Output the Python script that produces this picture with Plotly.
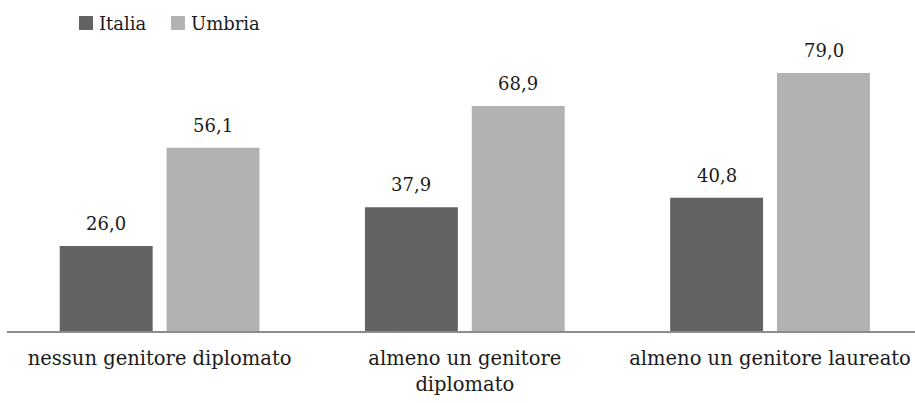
import plotly.graph_objects as go

categories = ["nessun genitore diplomato", "almeno un genitore<br>diplomato", "almeno un genitore laureato"]
series_names = ["Italia", "Umbria"]
italia = [26.0, 37.9, 40.8]
umbria = [56.1, 68.9, 79.0]

colors = {"Italia": "#636363", "Umbria": "#b2b2b2"}
font_family = "DejaVu Serif"
text_color = "#1a1a1a"

def fmt(v):
    return f"{v:.1f}".replace(".", ",")

fig = go.Figure()
for name, vals in zip(series_names, [italia, umbria]):
    fig.add_trace(go.Bar(
        x=categories, y=vals, name=name,
        marker=dict(color=colors[name], line=dict(width=0)),
        hoverinfo="skip", showlegend=False,
    ))

annotations = []
for offset, vals in zip([-53.5, 53.5], [italia, umbria]):
    for c, v in zip(categories, vals):
        annotations.append(dict(
            x=c, y=v, xref="x", yref="y", text=fmt(v), showarrow=False,
            xshift=offset, yanchor="bottom", yshift=10,
            font=dict(family=font_family, size=18, color=text_color),
        ))

# manual legend (positions in paper coords)
shapes = []
legend_x = [0.0793, 0.1806]
for lx, name in zip(legend_x, series_names):
    shapes.append(dict(type="rect", xref="paper", yref="paper",
                       x0=lx, x1=lx + 0.0154, y0=1.0238, y1=1.0714,
                       fillcolor=colors[name], line=dict(width=0)))
    annotations.append(dict(x=lx + 0.0200, y=1.0476, xref="paper", yref="paper",
                            text=name, showarrow=False, xanchor="left", yanchor="middle",
                            font=dict(family=font_family, size=18, color=text_color)))

fig.update_layout(
    width=915, height=403,
    margin=dict(l=7, r=0, t=37, b=72),
    paper_bgcolor="white", plot_bgcolor="white",
    barmode="group", bargap=0.30, bargroupgap=0.13,
    font=dict(family=font_family, size=18, color=text_color),
    showlegend=False,
    annotations=annotations,
    shapes=shapes,
    xaxis=dict(range=[-0.5, 2.475], showgrid=False, showline=True, linecolor="#8c8c8c",
               linewidth=2, ticks="", automargin=False, ticklabelstandoff=9,
               tickfont=dict(family=font_family, size=19.5, color=text_color),
               fixedrange=True),
    yaxis=dict(range=[0, 90], visible=False, showgrid=False, zeroline=False,
               automargin=False, fixedrange=True),
)
fig.write_html("out.html", config={"displayModeBar": False},
               post_script="document.body.style.margin='0';")
